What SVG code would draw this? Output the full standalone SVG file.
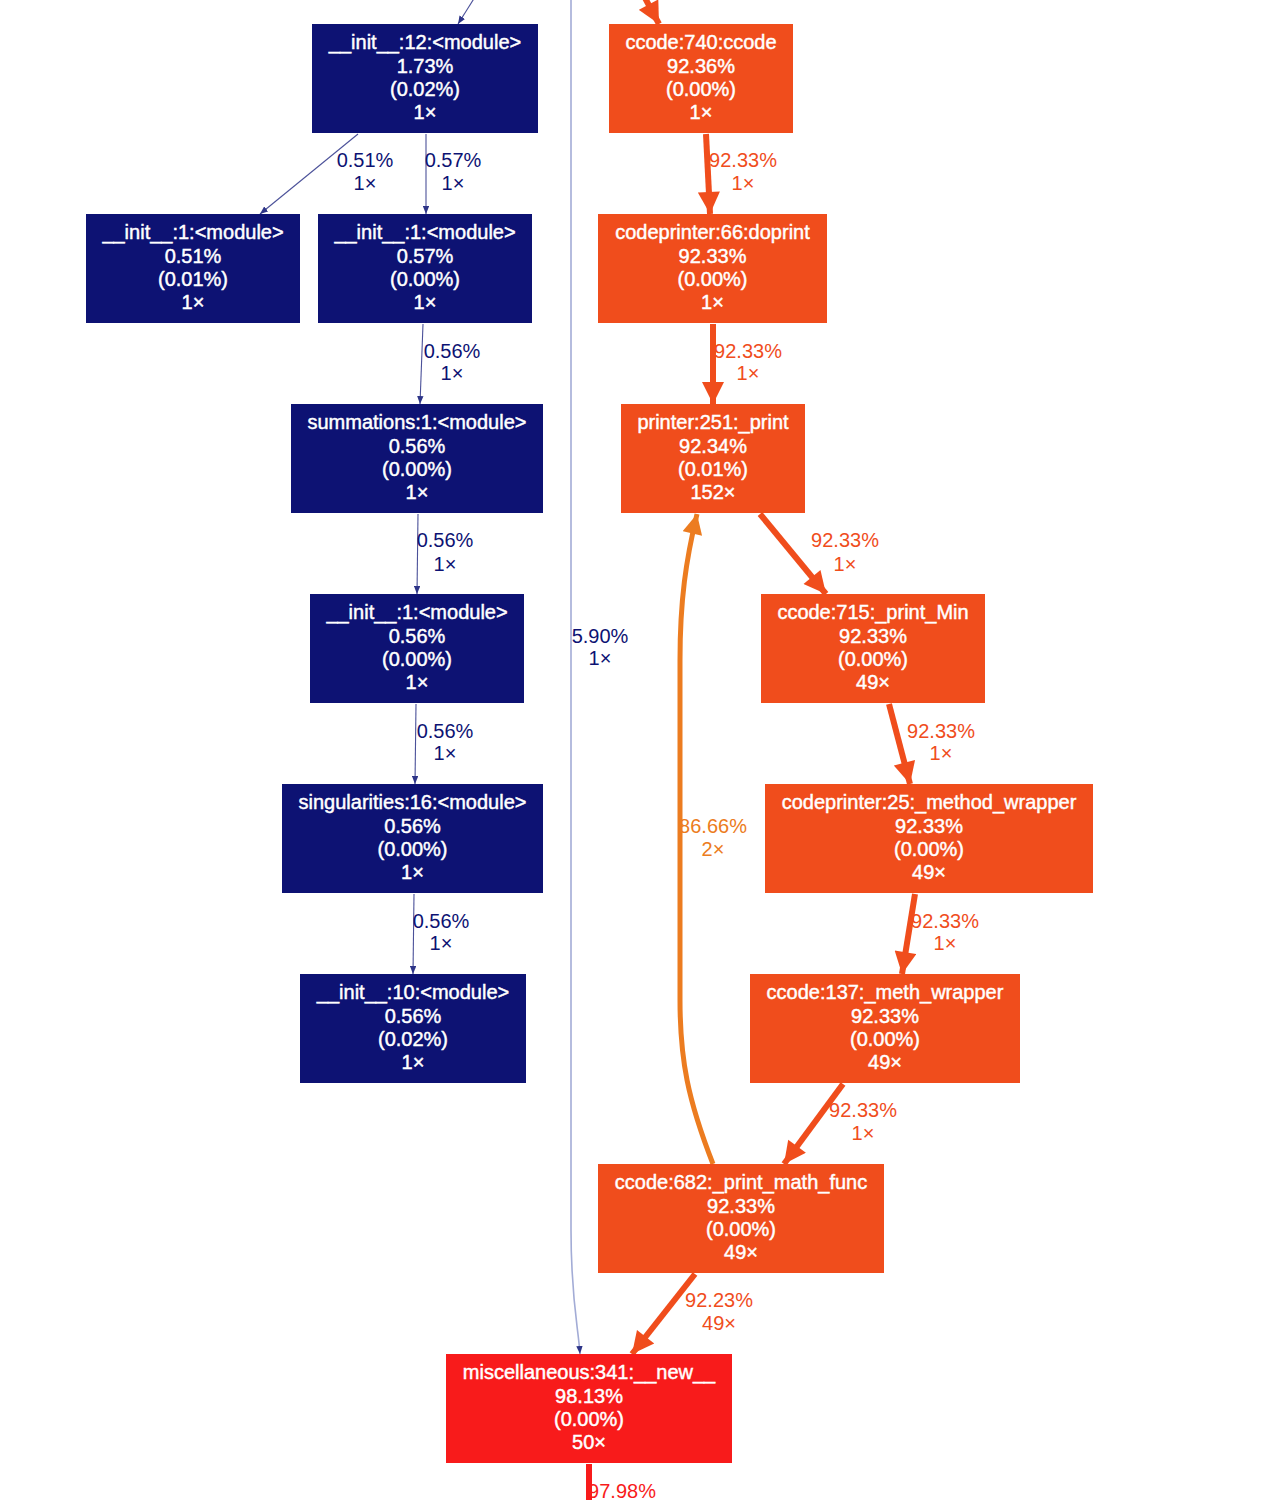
<svg xmlns="http://www.w3.org/2000/svg" width="1282" height="1500" viewBox="0 0 1282 1500">
<defs>
<style>
text{font-family:"Liberation Sans",Arial,sans-serif;font-size:20px;text-anchor:middle}
.nt{fill:#ffffff;stroke:#ffffff;stroke-width:0.45}
.navy rect{fill:#0d1273}
.hot rect{fill:#f04d1c}
.red rect{fill:#f81b1b}
.le{fill:none;stroke:#4b5199;stroke-width:1.1}
.lf{fill:none;stroke:#a3acd6;stroke-width:1.6}
.oe{fill:none;stroke:#f04d1c;stroke-width:6}
.ye{fill:none;stroke:#ec7c20;stroke-width:5}
.re{fill:none;stroke:#f81b1b;stroke-width:6}
.ln{fill:#0d1273}
.lo{fill:#f04d1c}
.ly{fill:#ec7c20}
</style>
<marker id="an" viewBox="0 0 10 8" refX="10" refY="4" markerWidth="8" markerHeight="6.5" markerUnits="userSpaceOnUse" orient="auto"><path d="M0,0 L10,4 L0,8 z" fill="#2e3588"/></marker>
<marker id="ao" viewBox="0 0 10 10" refX="10" refY="5" markerWidth="24" markerHeight="22" markerUnits="userSpaceOnUse" orient="auto"><path d="M0,0 L10,5 L0,10 z" fill="#f04d1c"/></marker>
<marker id="ay" viewBox="0 0 10 10" refX="10" refY="5" markerWidth="22" markerHeight="20" markerUnits="userSpaceOnUse" orient="auto"><path d="M0,0 L10,5 L0,10 z" fill="#ec7c20"/></marker>
</defs>
<rect x="0" y="0" width="1282" height="1500" fill="#ffffff"/>

<g id="edges">
<path class="le" d="M492,-30 L458,24" marker-end="url(#an)"/>
<path class="lf" d="M571,0 L571,1230 C571,1300 578,1325 580,1354" marker-end="url(#an)"/>
<path class="oe" d="M630,-30 L659,24" marker-end="url(#ao)"/>
<path class="le" d="M358,134 L260,214" marker-end="url(#an)"/>
<text class="ln" x="365" y="167">0.51%</text><text class="ln" x="365" y="190">1×</text>
<path class="le" d="M426,134 L426,214" marker-end="url(#an)"/>
<text class="ln" x="453" y="167">0.57%</text><text class="ln" x="453" y="190">1×</text>
<path class="le" d="M423,324 L420,404" marker-end="url(#an)"/>
<text class="ln" x="452" y="358">0.56%</text><text class="ln" x="452" y="380">1×</text>
<path class="le" d="M418,514 L417,594" marker-end="url(#an)"/>
<text class="ln" x="445" y="547">0.56%</text><text class="ln" x="445" y="571">1×</text>
<path class="le" d="M416,704 L415,784" marker-end="url(#an)"/>
<text class="ln" x="445" y="738">0.56%</text><text class="ln" x="445" y="760">1×</text>
<path class="le" d="M414,894 L413,974" marker-end="url(#an)"/>
<text class="ln" x="441" y="928">0.56%</text><text class="ln" x="441" y="950">1×</text>
<text class="ln" x="600" y="643">5.90%</text><text class="ln" x="600" y="665">1×</text>

<path class="oe" d="M706,134 L710,214" marker-end="url(#ao)"/>
<text class="lo" x="743" y="167">92.33%</text><text class="lo" x="743" y="190">1×</text>
<path class="oe" d="M713,324 L713,404" marker-end="url(#ao)"/>
<text class="lo" x="748" y="358">92.33%</text><text class="lo" x="748" y="380">1×</text>
<path class="oe" d="M760,514 L826,594" marker-end="url(#ao)"/>
<text class="lo" x="845" y="547">92.33%</text><text class="lo" x="845" y="571">1×</text>
<path class="oe" d="M889,704 L910,784" marker-end="url(#ao)"/>
<text class="lo" x="941" y="738">92.33%</text><text class="lo" x="941" y="760">1×</text>
<path class="oe" d="M915,894 L902,974" marker-end="url(#ao)"/>
<text class="lo" x="945" y="928">92.33%</text><text class="lo" x="945" y="950">1×</text>
<path class="oe" d="M843,1084 L784,1164" marker-end="url(#ao)"/>
<text class="lo" x="863" y="1117">92.33%</text><text class="lo" x="863" y="1140">1×</text>
<path class="ye" d="M713,1164 C688,1100 680,1060 680,1000 L680,660 C680,600 686,560 697,514" marker-end="url(#ay)"/>
<text class="ly" x="713" y="833">86.66%</text><text class="ly" x="713" y="856">2×</text>
<path class="oe" d="M695,1274 L632,1354" marker-end="url(#ao)"/>
<text class="lo" x="719" y="1307">92.23%</text><text class="lo" x="719" y="1330">49×</text>
<path class="re" d="M589,1464 L589,1500"/>
<text x="622" y="1498" fill="#f81b1b">97.98%</text>
</g>

<g id="n_init12" class="navy"><rect x="312" y="24" width="226" height="109"/>
<text class="nt" x="425" y="49">__init__:12:&lt;module&gt;</text><text class="nt" x="425" y="72.5">1.73%</text><text class="nt" x="425" y="96">(0.02%)</text><text class="nt" x="425" y="119">1×</text></g>

<g id="n_ccode740" class="hot"><rect x="609" y="24" width="184" height="109"/>
<text class="nt" x="701" y="49">ccode:740:ccode</text><text class="nt" x="701" y="72.5">92.36%</text><text class="nt" x="701" y="96">(0.00%)</text><text class="nt" x="701" y="119">1×</text></g>

<g id="n_init1a" class="navy"><rect x="86" y="214" width="214" height="109"/>
<text class="nt" x="193" y="239">__init__:1:&lt;module&gt;</text><text class="nt" x="193" y="262.5">0.51%</text><text class="nt" x="193" y="286">(0.01%)</text><text class="nt" x="193" y="309">1×</text></g>

<g id="n_init1b" class="navy"><rect x="318" y="214" width="214" height="109"/>
<text class="nt" x="425" y="239">__init__:1:&lt;module&gt;</text><text class="nt" x="425" y="262.5">0.57%</text><text class="nt" x="425" y="286">(0.00%)</text><text class="nt" x="425" y="309">1×</text></g>

<g id="n_doprint" class="hot"><rect x="598" y="214" width="229" height="109"/>
<text class="nt" x="712.5" y="239">codeprinter:66:doprint</text><text class="nt" x="712.5" y="262.5">92.33%</text><text class="nt" x="712.5" y="286">(0.00%)</text><text class="nt" x="712.5" y="309">1×</text></g>

<g id="n_summations" class="navy"><rect x="291" y="404" width="252" height="109"/>
<text class="nt" x="417" y="429">summations:1:&lt;module&gt;</text><text class="nt" x="417" y="452.5">0.56%</text><text class="nt" x="417" y="476">(0.00%)</text><text class="nt" x="417" y="499">1×</text></g>

<g id="n_print" class="hot"><rect x="621" y="404" width="184" height="109"/>
<text class="nt" x="713" y="429">printer:251:_print</text><text class="nt" x="713" y="452.5">92.34%</text><text class="nt" x="713" y="476">(0.01%)</text><text class="nt" x="713" y="499">152×</text></g>

<g id="n_init1c" class="navy"><rect x="310" y="594" width="214" height="109"/>
<text class="nt" x="417" y="619">__init__:1:&lt;module&gt;</text><text class="nt" x="417" y="642.5">0.56%</text><text class="nt" x="417" y="666">(0.00%)</text><text class="nt" x="417" y="689">1×</text></g>

<g id="n_printmin" class="hot"><rect x="761" y="594" width="224" height="109"/>
<text class="nt" x="873" y="619">ccode:715:_print_Min</text><text class="nt" x="873" y="642.5">92.33%</text><text class="nt" x="873" y="666">(0.00%)</text><text class="nt" x="873" y="689">49×</text></g>

<g id="n_singularities" class="navy"><rect x="282" y="784" width="261" height="109"/>
<text class="nt" x="412.5" y="809">singularities:16:&lt;module&gt;</text><text class="nt" x="412.5" y="832.5">0.56%</text><text class="nt" x="412.5" y="856">(0.00%)</text><text class="nt" x="412.5" y="879">1×</text></g>

<g id="n_methwrap" class="hot"><rect x="765" y="784" width="328" height="109"/>
<text class="nt" x="929" y="809">codeprinter:25:_method_wrapper</text><text class="nt" x="929" y="832.5">92.33%</text><text class="nt" x="929" y="856">(0.00%)</text><text class="nt" x="929" y="879">49×</text></g>

<g id="n_init10" class="navy"><rect x="300" y="974" width="226" height="109"/>
<text class="nt" x="413" y="999">__init__:10:&lt;module&gt;</text><text class="nt" x="413" y="1022.5">0.56%</text><text class="nt" x="413" y="1046">(0.02%)</text><text class="nt" x="413" y="1069">1×</text></g>

<g id="n_ccode137" class="hot"><rect x="750" y="974" width="270" height="109"/>
<text class="nt" x="885" y="999">ccode:137:_meth_wrapper</text><text class="nt" x="885" y="1022.5">92.33%</text><text class="nt" x="885" y="1046">(0.00%)</text><text class="nt" x="885" y="1069">49×</text></g>

<g id="n_mathfunc" class="hot"><rect x="598" y="1164" width="286" height="109"/>
<text class="nt" x="741" y="1189">ccode:682:_print_math_func</text><text class="nt" x="741" y="1212.5">92.33%</text><text class="nt" x="741" y="1236">(0.00%)</text><text class="nt" x="741" y="1259">49×</text></g>

<g id="n_misc" class="red"><rect x="446" y="1354" width="286" height="109"/>
<text class="nt" x="589" y="1379">miscellaneous:341:__new__</text><text class="nt" x="589" y="1402.5">98.13%</text><text class="nt" x="589" y="1426">(0.00%)</text><text class="nt" x="589" y="1449">50×</text></g>
</svg>
